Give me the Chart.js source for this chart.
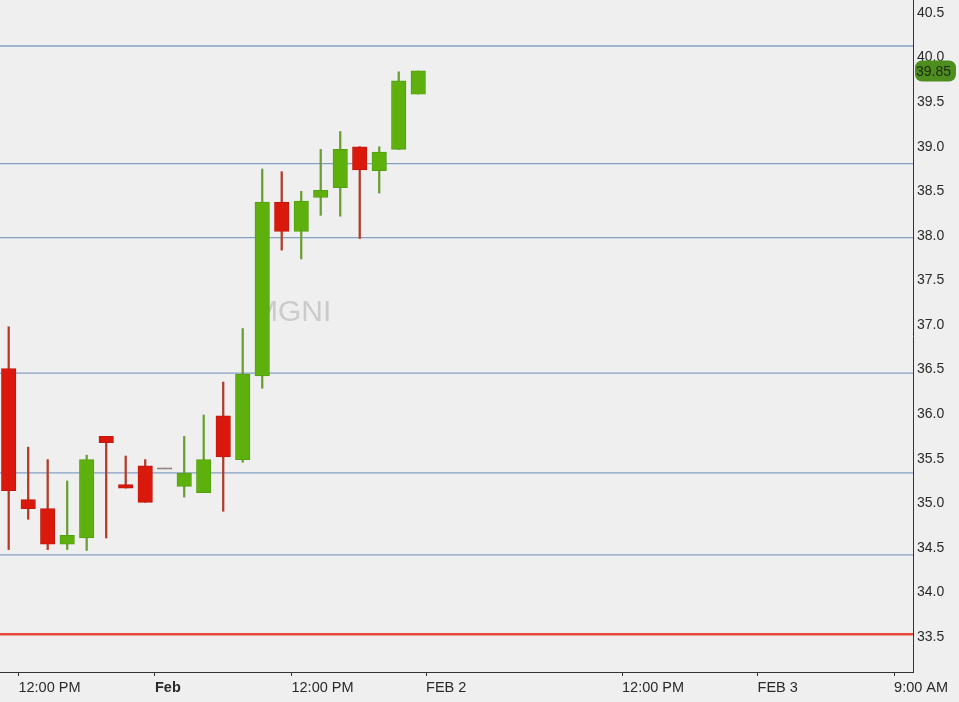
<!DOCTYPE html>
<html>
<head>
<meta charset="utf-8">
<script src="https://cdn.jsdelivr.net/npm/chart.js@4.4.1/dist/chart.umd.min.js"></script>
<style>
  html, body { margin: 0; padding: 0; background: #efefef; }
  #c { display: block; }
</style>
</head>
<body>
<canvas id="c" width="959" height="702"></canvas>
<script>
// ---- data ----
const candleIndex = [0,1,2,3,4,5,6,7,8,9,10,11,12,13,14,15,16,17,18,19,20,21];
const opens  = [36.51,35.04,34.94,34.54,34.61,35.75,35.21,35.42,35.39,35.19,35.12,35.98,35.49,36.43,38.38,38.05,38.43,38.54,39.00,38.73,38.97,39.59];
const highs  = [36.98,35.63,35.49,35.25,35.54,35.75,35.53,35.49,35.39,35.75,35.99,36.36,36.96,38.75,38.72,38.50,38.97,39.17,39.00,39.00,39.84,39.85];
const lows   = [34.48,34.82,34.48,34.48,34.47,34.61,35.17,35.01,35.39,35.07,35.12,34.91,35.46,36.29,37.84,37.74,38.23,38.22,37.97,38.48,38.97,39.59];
const closes = [35.14,34.94,34.54,34.64,35.49,35.68,35.17,35.01,35.39,35.34,35.49,35.52,36.45,38.38,38.05,38.39,38.51,38.97,38.74,38.94,39.74,39.85];

const levelLines = [40.13, 38.81, 37.98, 36.46, 35.34, 34.42];
const redLevel = 33.53;

const yTickValues = [33.5,34.0,34.5,35.0,35.5,36.0,36.5,37.0,37.5,38.0,38.5,39.0,39.5,40.0,40.5];
const xTickPos    = [0.5, 7.5, 14.5, 21.4, 31.45, 38.4, 45.4];
const xTickLabels = ['12:00 PM','Feb','12:00 PM','FEB 2','12:00 PM','FEB 3','9:00 AM'];

const symbol = 'MGNI';
const lastPrice = closes[closes.length - 1];

const X_MIN = -0.446, X_MAX = 46.37;
const Y_MIN = 33.107, Y_MAX = 40.646;

// ---- colours ----
const UP = '#5eb10c', UP_B = '#52a00e', UP_W = '#6a9e34';
const DN = '#da180c', DN_B = '#bf1a0e', DN_W = '#b23a28';
const DOJI = '#7d6e68';

function dirColor(i, up, dn) {
  if (opens[i] === closes[i]) return DOJI;
  return closes[i] >= opens[i] ? up : dn;
}

const bodyData = candleIndex.map(i => {
  let lo = Math.min(opens[i], closes[i]), hi = Math.max(opens[i], closes[i]);
  if (hi - lo < 0.015) { lo -= 0.008; hi += 0.008; }
  return { x: i, y: [lo, hi] };
});
const wickData = candleIndex.map(i => ({ x: i, y: [lows[i], highs[i]] }));

const lineSets = levelLines.map(v => ({
  type: 'line',
  data: [{ x: X_MIN, y: v }, { x: X_MAX, y: v }],
  borderColor: '#86a0c4',
  borderWidth: 1.3,
  pointRadius: 0,
  order: 10
}));
lineSets.push({
  type: 'line',
  data: [{ x: X_MIN, y: redLevel }, { x: X_MAX, y: redLevel }],
  borderColor: '#e8473a',
  borderWidth: 2.6,
  pointRadius: 0,
  order: 10
});

const watermark = {
  id: 'watermark',
  beforeDatasetsDraw(chart) {
    const ctx = chart.ctx, a = chart.chartArea;
    ctx.save();
    ctx.font = '30px "Liberation Sans", Arial, sans-serif';
    ctx.fillStyle = '#cbcbcb';
    ctx.textAlign = 'center';
    ctx.textBaseline = 'middle';
    ctx.fillText(symbol, a.left + (a.right - a.left) * 0.32, a.top + (a.bottom - a.top) * 0.466);
    ctx.restore();
  }
};

const priceTag = {
  id: 'priceTag',
  afterDraw(chart) {
    const ctx = chart.ctx, y = chart.scales.y.getPixelForValue(lastPrice);
    const x0 = chart.chartArea.right + 2, w = 41, h = 21;
    ctx.save();
    ctx.fillStyle = '#4d8e1f';
    ctx.beginPath();
    if (ctx.roundRect) ctx.roundRect(x0, y - h / 2, w, h, 7); else ctx.rect(x0, y - h / 2, w, h);
    ctx.fill();
    ctx.font = '14px "Liberation Sans", Arial, sans-serif';
    ctx.fillStyle = '#1f2a14';
    ctx.textBaseline = 'middle';
    ctx.textAlign = 'left';
    ctx.fillText(lastPrice.toFixed(2), x0 + 1, y + 1);
    ctx.restore();
  }
};

new Chart(document.getElementById('c'), {
  type: 'bar',
  data: {
    datasets: [
      {
        data: bodyData,
        backgroundColor: candleIndex.map(i => dirColor(i, UP, DN)),
        borderColor: candleIndex.map(i => dirColor(i, UP_B, DN_B)),
        borderWidth: 1,
        borderSkipped: false,
        barThickness: 14.5,
        grouped: false,
        order: 1
      },
      {
        data: wickData,
        backgroundColor: candleIndex.map(i => dirColor(i, UP_W, DN_W)),
        borderWidth: 0,
        barThickness: 1.6,
        grouped: false,
        order: 2
      },
      ...lineSets
    ]
  },
  options: {
    responsive: false,
    animation: false,
    events: [],
    layout: { padding: 0 },
    plugins: { legend: { display: false }, tooltip: { enabled: false } },
    scales: {
      x: {
        type: 'linear',
        min: X_MIN, max: X_MAX,
        offset: false,
        afterBuildTicks: s => { s.ticks = xTickPos.map(v => ({ value: v })); },
        afterFit: s => { s.height = 30; s.paddingLeft = 0; s.paddingRight = 0; },
        grid: { offset: false, drawOnChartArea: false, drawTicks: true, tickLength: 4, color: '#333', lineWidth: 1 },
        border: { display: true, color: '#333', width: 1 },
        ticks: {
          align: 'start',
          padding: 3,
          maxRotation: 0,
          autoSkip: false,
          color: '#2a2a2a',
          font: ctx => ({ family: '"Liberation Sans", Arial, sans-serif', size: 14.5, weight: ctx.index === 1 ? 'bold' : 'normal' }),
          callback: (v, idx) => xTickLabels[idx]
        }
      },
      y: {
        type: 'linear',
        position: 'right',
        min: Y_MIN, max: Y_MAX,
        afterBuildTicks: s => { s.ticks = yTickValues.map(v => ({ value: v })); },
        afterFit: s => { s.width = 46; s.paddingTop = 0; s.paddingBottom = 0; },
        grid: { display: false, drawTicks: false },
        border: { display: true, color: '#333', width: 1 },
        ticks: {
          padding: 4,
          color: '#2a2a2a',
          font: { family: '"Liberation Sans", Arial, sans-serif', size: 14 },
          callback: v => Number(v).toFixed(1)
        }
      }
    }
  },
  plugins: [watermark, priceTag]
});
</script>
</body>
</html>
